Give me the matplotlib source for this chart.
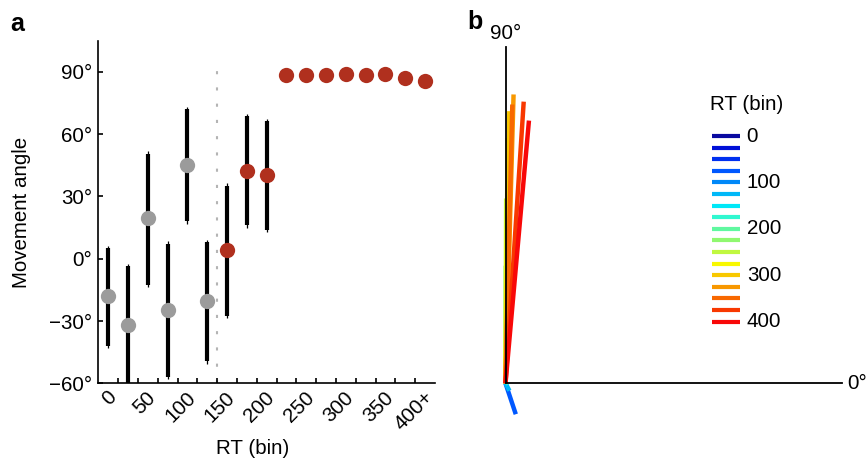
import numpy as np
import matplotlib
matplotlib.use("Agg")
import matplotlib.pyplot as plt
from matplotlib.transforms import ScaledTranslation

plt.rcParams["font.family"] = ["Liberation Sans", "DejaVu Sans"]
plt.rcParams["font.size"] = 14.8

# ---- data -------------------------------------------------------------
bins = list(range(17))                      # RT bins of 25 ms, last is 400+
bin_labels = ["0", "50", "100", "150", "200", "250", "300", "350", "400+"]
label_bins = [0, 2, 4, 6, 8, 10, 12, 14, 16]

mean_angle = [-17.8, -31.8, 19.5, -24.6, 45.2, -20.6, 4.0, 42.4, 40.5,
              88.3, 88.6, 88.7, 89.2, 88.6, 89.1, 86.8, 85.4]
ci_low = [-41.8, -66.0, -12.5, -56.8, 18.0, -49.5, -27.5, 16.1, 14.0,
          86.5, 86.8, 87.0, 87.5, 86.8, 87.3, 84.8, 83.2]
ci_high = [5.1, -3.7, 50.6, 7.2, 71.9, 8.0, 35.2, 68.6, 66.2,
           90.1, 90.4, 90.4, 90.9, 90.4, 90.9, 88.8, 87.6]
boundary_bin = 5.5                          # separates guess / informed responses
boundary_top = 95

# mean resultant vectors per RT bin (angle in degrees, length 0..1)
vec_angle = [-20, -30, 15, -71.6, 40, -62, 5, 45, 42,
             89.9, 89.8, 89.5, 89.2, 88.4, 88.6, 86.3, 84.9]
vec_length = [0.005, 0.005, 0.005, 0.097, 0.005, 0.025, 0.005, 0.005, 0.005,
              0.35, 0.55, 0.73, 0.81, 0.86, 0.83, 0.84, 0.785]
legend_text = {0: "0", 4: "100", 8: "200", 12: "300", 16: "400"}

bin_colors = ["#0A0AA0", "#0010D8", "#0030F0", "#0058FF", "#0088F8",
              "#00B8F8", "#00E8F8", "#30F8D0", "#60F8A0", "#90F870",
              "#C0F840", "#F8F800", "#F8C800", "#F89800", "#F86800",
              "#F83800", "#F80808"]

GRAY = "#9B9B9B"
RED = "#B0301E"

W, H = 866, 462
fig = plt.figure(figsize=(W / 100, H / 100), dpi=100)


def px_axes(left, top, right, bottom):
    return fig.add_axes([left / W, 1 - bottom / H, (right - left) / W, (bottom - top) / H])


# ---- panel a ----------------------------------------------------------
ax = px_axes(98.3, 40.7, 435.0, 383.3)
x = np.array(bins)
ang = np.array(mean_angle)
lo = np.array(ci_low)
hi = np.array(ci_high)
uninformed = x < boundary_bin

ax.vlines(boundary_bin, -60, boundary_top, color="#B4B4B4", lw=1.5,
          linestyles=(0, (1.5, 6.3)), zorder=1)
ax.vlines(x, lo - 1.2, hi + 1.2, color="black", lw=0.9, zorder=2)
ax.vlines(x, lo, hi, color="black", lw=3.0, zorder=2)
ax.plot(x[uninformed], ang[uninformed], "o", ms=11, color=GRAY, mec="none", zorder=3)
ax.plot(x[~uninformed], ang[~uninformed], "o", ms=11, color=RED, mec="none", zorder=3)

ax.set_xlim(-0.5, 16.5)
ax.set_ylim(-60, 105)
ax.spines[["top", "right"]].set_visible(False)
for s in ("left", "bottom"):
    ax.spines[s].set_linewidth(1.2)

yt = [-60, -30, 0, 30, 60, 90]
ax.set_yticks(yt)
ax.set_yticklabels([f"{v}°".replace("-", "\u2212") for v in yt])
ax.tick_params(axis="y", direction="in", length=3.5, width=1.2, pad=4.5)

ax.set_xticks(label_bins)
ax.set_xticklabels(bin_labels, rotation=45, ha="right", va="center",
                   rotation_mode="anchor")
ax.set_xticks(np.arange(0.5, 16, 1.0), minor=True)
ax.tick_params(axis="x", which="major", length=0, pad=8)
ax.tick_params(axis="x", which="minor", direction="in", length=3.5, width=1.2)
shift = ScaledTranslation(5 / 100, 0, fig.dpi_scale_trans)
for lab in ax.get_xticklabels():
    lab.set_transform(lab.get_transform() + shift)

fig.text(253 / W, 1 - 448 / H, "RT (bin)", ha="center", va="center")
fig.text(22 / W, 1 - 212 / H, "Movement angle", ha="center", va="center", rotation=90)
fig.text(10 / W, 1 - 24 / H, "a", ha="left", va="center", fontsize=18, fontweight="bold")

# ---- panel b ----------------------------------------------------------
unit = 336.0
ox, oy = 505.5, 383.3
L, T, R, B = 470, 20, 865, 440
bx = fig.add_axes([L / W, 1 - B / H, (R - L) / W, (B - T) / H])
bx.set_xlim(-(ox - L) / unit, (R - ox) / unit)
bx.set_ylim(-(B - oy) / unit, (oy - T) / unit)
bx.axis("off")

for i in bins:
    t = np.deg2rad(vec_angle[i])
    bx.plot([0, vec_length[i] * np.cos(t)], [0, vec_length[i] * np.sin(t)],
            color=bin_colors[i], lw=3.2, solid_capstyle="butt", zorder=2)

bx.plot([0, 0], [0, 1], color="black", lw=1.3, zorder=3)
bx.plot([0, 1], [0, 0], color="black", lw=1.3, zorder=3)
bx.annotate("90°", (0, 1), xytext=(0, 3), textcoords="offset points",
            ha="center", va="bottom")
bx.annotate("0°", (1, 0), xytext=(4, 0), textcoords="offset points",
            ha="left", va="center")

# legend drawn as a stack of colour swatches
lx0, lx1 = (711.7 - ox) / unit, (740 - ox) / unit
ly0 = (oy - 136) / unit
step = 11.6 / unit
for i in bins:
    yy = ly0 - i * step
    bx.plot([lx0, lx1], [yy, yy], color=bin_colors[i], lw=3.0, solid_capstyle="butt")
    if i in legend_text:
        bx.text((746.7 - ox) / unit, yy, legend_text[i], ha="left", va="center")
bx.text((710 - ox) / unit, (oy - 104) / unit, "RT (bin)", ha="left", va="center")

fig.text(467 / W, 1 - 22 / H, "b", ha="left", va="center", fontsize=18, fontweight="bold")

fig.savefig("out.png", dpi=100)
